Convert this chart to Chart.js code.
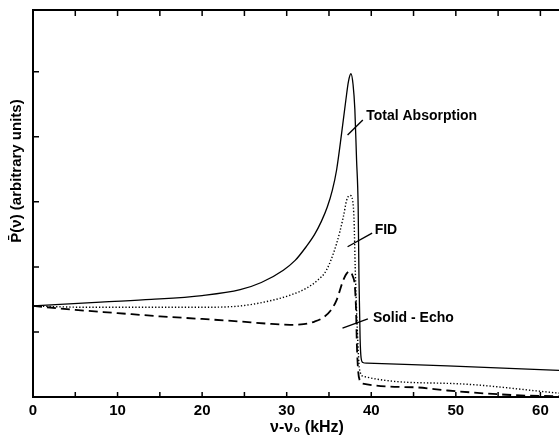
<!DOCTYPE html>
<html>
<head>
<meta charset="utf-8">
<script src="https://cdn.jsdelivr.net/npm/chart.js@4"></script>
<style>
  html, body { margin: 0; padding: 0; background: #fff; }
  #wrap { width: 559px; height: 438px; }
</style>
</head>
<body>
<div id="wrap"><canvas id="c" width="559" height="438"></canvas></div>
<script>
// values (x in kHz, y in arbitrary units)
const totalX = [0, 8, 14, 20, 24.5, 27, 29.6, 31, 32.3, 33.3, 34.1, 34.8, 35.4, 35.9, 36.5, 37.0, 37.3, 37.6, 37.85, 38.06, 38.26, 38.45, 38.55, 38.68, 38.8, 39.0, 39.5, 49, 62.2];
const totalY = [1.40, 1.46, 1.50, 1.56, 1.65, 1.76, 1.95, 2.10, 2.31, 2.50, 2.70, 2.92, 3.18, 3.49, 4.06, 4.57, 4.85, 4.97, 4.80, 4.42, 3.65, 2.93, 1.80, 0.90, 0.60, 0.53, 0.52, 0.48, 0.41];

const fidX = [0, 6, 14, 20, 24.5, 28.4, 30.5, 32.3, 33.6, 34.7, 35.9, 36.7, 37.1, 37.5, 37.8, 37.97, 38.1, 38.3, 38.55, 38.7, 39.0, 49, 62.2];
const fidY = [1.40, 1.38, 1.38, 1.38, 1.40, 1.49, 1.57, 1.67, 1.79, 1.95, 2.36, 2.77, 3.03, 3.10, 3.02, 2.70, 2.00, 1.20, 0.50, 0.38, 0.32, 0.21, 0.06];

const echoX = [0, 5, 10, 15, 20, 24.5, 27.5, 30.4, 32, 33.3, 34.3, 35.2, 35.9, 36.7, 37.1, 37.5, 37.8, 38.06, 38.2, 38.3, 38.45, 38.65, 38.9, 45, 49, 56.7, 62.2];
const echoY = [1.40, 1.34, 1.29, 1.24, 1.20, 1.16, 1.13, 1.11, 1.12, 1.16, 1.22, 1.33, 1.49, 1.80, 1.90, 1.93, 1.86, 1.70, 1.34, 0.80, 0.40, 0.25, 0.21, 0.15, 0.10, 0.03, 0.01];

const xTickLabels = [0, 10, 20, 30, 40, 50, 60];
const xMinorTicks = [0, 5, 10, 15, 20, 25, 30, 35, 40, 45, 50, 55, 60];
const yTicks = [1, 2, 3, 4, 5];

const FONT = '"Liberation Sans", Arial, sans-serif';

const toPts = (xs, ys) => xs.map((x, i) => ({ x: x, y: ys[i] }));

// curve labels with their leader lines, in data units
const curveLabels = [
  { text: 'Total Absorption', at: [39.4, 4.32], from: [37.2, 4.03], to: [39.0, 4.26] },
  { text: 'FID', at: [40.4, 2.57], from: [37.2, 2.31], to: [40.1, 2.52] },
  { text: 'Solid - Echo', at: [40.2, 1.22], from: [36.6, 1.06], to: [39.6, 1.20] }
];

const decor = {
  id: 'decor',
  afterDatasetsDraw(chart) {
    const { ctx, chartArea: a, scales: { x, y } } = chart;
    ctx.save();
    ctx.strokeStyle = '#000';
    ctx.fillStyle = '#000';
    // top frame line
    ctx.lineWidth = 2;
    ctx.beginPath();
    ctx.moveTo(a.left, a.top);
    ctx.lineTo(a.right, a.top);
    ctx.stroke();
    // inward tick marks
    ctx.lineWidth = 1.5;
    ctx.beginPath();
    xMinorTicks.forEach(v => {
      const px = x.getPixelForValue(v);
      ctx.moveTo(px, a.bottom); ctx.lineTo(px, a.bottom - 5);
      ctx.moveTo(px, a.top); ctx.lineTo(px, a.top + 6);
    });
    yTicks.forEach(v => {
      const py = y.getPixelForValue(v);
      ctx.moveTo(a.left, py); ctx.lineTo(a.left + 6, py);
    });
    ctx.stroke();
    // leader lines and labels
    ctx.lineWidth = 1.4;
    ctx.font = 'bold 14px ' + FONT;
    ctx.textBaseline = 'middle';
    ctx.textAlign = 'left';
    curveLabels.forEach(l => {
      ctx.beginPath();
      ctx.moveTo(x.getPixelForValue(l.from[0]), y.getPixelForValue(l.from[1]));
      ctx.lineTo(x.getPixelForValue(l.to[0]), y.getPixelForValue(l.to[1]));
      ctx.stroke();
      ctx.fillText(l.text, x.getPixelForValue(l.at[0]), y.getPixelForValue(l.at[1]));
    });
    // x axis title
    ctx.textAlign = 'center';
    ctx.font = 'bold 16px ' + FONT;
    ctx.fillText('\u03bd-\u03bd\u2080 (kHz)', 307, 428);
    // y axis title
    ctx.translate(17, 171);
    ctx.rotate(-Math.PI / 2);
    ctx.font = 'bold 15px ' + FONT;
    ctx.fillText('P\u0304(\u03bd) (arbitrary units)', 0, 0);
    ctx.restore();
  }
};

new Chart(document.getElementById('c'), {
  type: 'scatter',
  data: {
    datasets: [
      { label: 'Total Absorption', data: toPts(totalX, totalY), borderColor: '#000', borderWidth: 1.3 },
      { label: 'FID', data: toPts(fidX, fidY), borderColor: '#000', borderWidth: 1.4, borderDash: [1.3, 2] },
      { label: 'Solid-Echo', data: toPts(echoX, echoY), borderColor: '#000', borderWidth: 1.8, borderDash: [9, 5] }
    ]
  },
  options: {
    responsive: false,
    animation: false,
    showLine: true,
    layout: { padding: { top: 10, left: 0, right: 0, bottom: 0 } },
    elements: {
      point: { radius: 0, hoverRadius: 0 },
      line: { cubicInterpolationMode: 'monotone', fill: false }
    },
    plugins: { legend: { display: false }, tooltip: { enabled: false } },
    scales: {
      x: {
        type: 'linear',
        min: 0,
        max: 62.2,
        afterBuildTicks: s => { s.ticks = xTickLabels.map(v => ({ value: v })); },
        afterFit: s => { s.height = 41; },
        grid: { display: false, drawTicks: false },
        border: { display: true, color: '#000', width: 2 },
        ticks: { color: '#000', padding: 5, maxRotation: 0, font: { family: FONT, size: 15, weight: 'bold' } }
      },
      y: {
        type: 'linear',
        min: 0,
        max: 5.95,
        afterFit: s => { s.width = 33; },
        grid: { display: false, drawTicks: false },
        border: { display: true, color: '#000', width: 2 },
        ticks: { display: false }
      }
    }
  },
  plugins: [decor]
});
</script>
</body>
</html>
